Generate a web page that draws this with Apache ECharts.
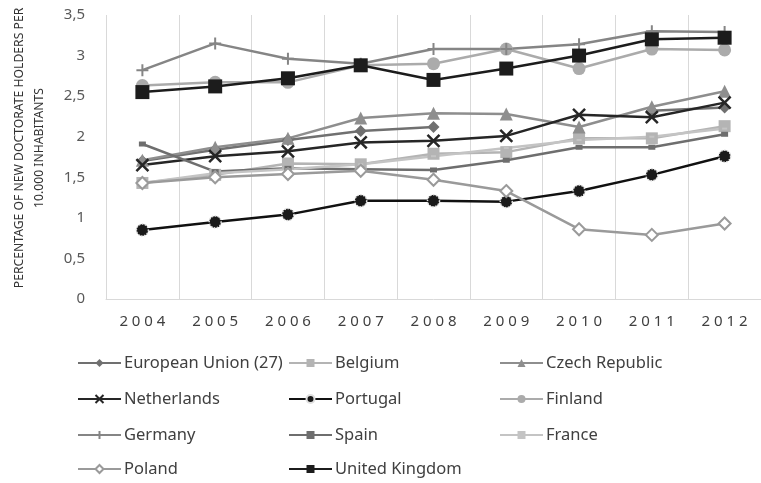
<!DOCTYPE html>
<html><head><meta charset="utf-8">
<script src="https://cdn.jsdelivr.net/npm/echarts@6/dist/echarts.min.js"></script>
<style>html,body{margin:0;padding:0;background:#fff}#c{width:761px;height:483px}</style>
</head><body><div id="c"></div>
<script>
const years = ['2004','2005','2006','2007','2008','2009','2010','2011','2012'];
const euValues = [1.70, 1.84, 1.96, 2.07, 2.12, null, null, 2.32, 2.36];
const belgium = [1.43, 1.53, 1.67, 1.66, 1.79, 1.81, 1.98, 1.98, 2.13];
const czech = [1.71, 1.87, 1.98, 2.23, 2.29, 2.28, 2.12, 2.37, 2.56];
const netherlands = [1.65, 1.76, 1.82, 1.93, 1.95, 2.01, 2.27, 2.24, 2.42];
const portugal = [0.85, 0.95, 1.04, 1.21, 1.21, 1.20, 1.33, 1.53, 1.76];
const finland = [2.63, 2.67, 2.67, 2.88, 2.90, 3.08, 2.84, 3.08, 3.07];
const germany = [2.82, 3.15, 2.96, 2.90, 3.08, 3.08, 3.14, 3.30, 3.29];
const spain = [1.91, 1.57, 1.61, 1.60, 1.59, 1.71, 1.87, 1.87, 2.03];
const france = [1.43, 1.55, 1.60, 1.66, 1.76, 1.86, 1.96, 2.00, 2.10];
const poland = [1.43, 1.50, 1.54, 1.58, 1.47, 1.33, 0.86, 0.79, 0.93];
const uk = [2.55, 2.62, 2.72, 2.88, 2.70, 2.84, 3.00, 3.20, 3.22];
const yTicks = ['0','0,5','1','1,5','2','2,5','3','3,5'];
const yTitle = 'PERCENTAGE OF NEW DOCTORATE HOLDERS PER\n10.000 INHABITANTS';

const FONT = 'Noto Sans';
const X_PATH = 'path://M0,0L10,10M10,0L0,10';
const PLUS_PATH = 'path://M5,0L5,10M0,5L10,5';

function mk(name, data, color, symbol, size, extra) {
  const s = {
    name: name, type: 'line', data: data, connectNulls: false,
    symbol: symbol, symbolSize: size, showAllSymbol: true,
    lineStyle: {color: color, width: 2.5},
    itemStyle: {color: color, borderColor: color, borderWidth: 0},
    emphasis: {disabled: true}, animation: false
  };
  if (extra) Object.assign(s.itemStyle, extra);
  return s;
}

const series = [
  mk('European Union (27)', euValues, '#707070', 'diamond', 12),
  mk('Belgium', belgium, '#b4b4b4', 'rect', 12),
  mk('Czech Republic', czech, '#8e8e8e', 'triangle', 13),
  mk('Netherlands', netherlands, '#262626', X_PATH, 12, {borderWidth: 2.5, borderColor: '#262626'}),
  mk('Portugal', portugal, '#111111', 'circle', 12, {color: '#1a1a1a', borderColor: '#e0e0e0', borderWidth: 1.5, borderType: 'dotted'}),
  mk('Finland', finland, '#ababab', 'circle', 13),
  mk('Germany', germany, '#858585', PLUS_PATH, 12, {borderWidth: 2, borderColor: '#858585'}),
  mk('Spain', spain, '#6e6e6e', 'rect', [7, 5]),
  mk('France', france, '#c4c4c4', 'rect', [5, 2]),
  mk('Poland', poland, '#9a9a9a', 'diamond', 12, {color: '#ffffff', borderColor: '#9a9a9a', borderWidth: 2}),
  mk('United Kingdom', uk, '#1c1c1c', 'rect', 14)
];

const cols = [77, 288, 499];
const rows = [363, 399, 435, 469];
const legendPos = [[0,0],[1,0],[2,0],[0,1],[1,1],[2,1],[0,2],[1,2],[2,2],[0,3],[1,3]];
const legends = series.map((s, i) => ({
  data: [s.name], left: cols[legendPos[i][0]], top: rows[legendPos[i][1]] - 11,
  padding: 0, itemWidth: 43, itemHeight: 10, itemGap: 0, selectedMode: false,
  textStyle: {fontFamily: FONT, fontSize: 16.5, color: '#404040', lineHeight: 22, padding: [0,0,0,-2]}
}));

const chart = echarts.init(document.getElementById('c'), null, {renderer: 'canvas'});
chart.setOption({
  animation: false,
  backgroundColor: '#ffffff',
  grid: {left: 106, top: 15, width: 664, height: 284, containLabel: false},
  legend: legends,
  xAxis: {
    type: 'category', data: years, boundaryGap: true,
    axisLine: {show: true, lineStyle: {color: '#d9d9d9', width: 1}},
    axisTick: {show: false},
    splitLine: {show: true, lineStyle: {color: '#d9d9d9', width: 1}},
    axisLabel: {fontFamily: FONT, fontSize: 15, color: '#404040', margin: 15,
      formatter: v => v.split('').join(' ')}
  },
  yAxis: {
    type: 'value', min: 0, max: 3.5, interval: 0.5,
    axisLine: {show: false}, axisTick: {show: false}, splitLine: {show: false},
    axisLabel: {fontFamily: FONT, fontSize: 15, color: '#595959', margin: 21,
      formatter: v => yTicks[Math.round(v * 2)]}
  },
  graphic: [{
    type: 'text', x: 30, y: 148, rotation: Math.PI / 2,
    style: {text: yTitle, fontFamily: FONT, fontSize: 12.2, fill: '#333333',
      align: 'center', verticalAlign: 'middle', lineHeight: 20}
  }],
  series: series
});
</script></body></html>
